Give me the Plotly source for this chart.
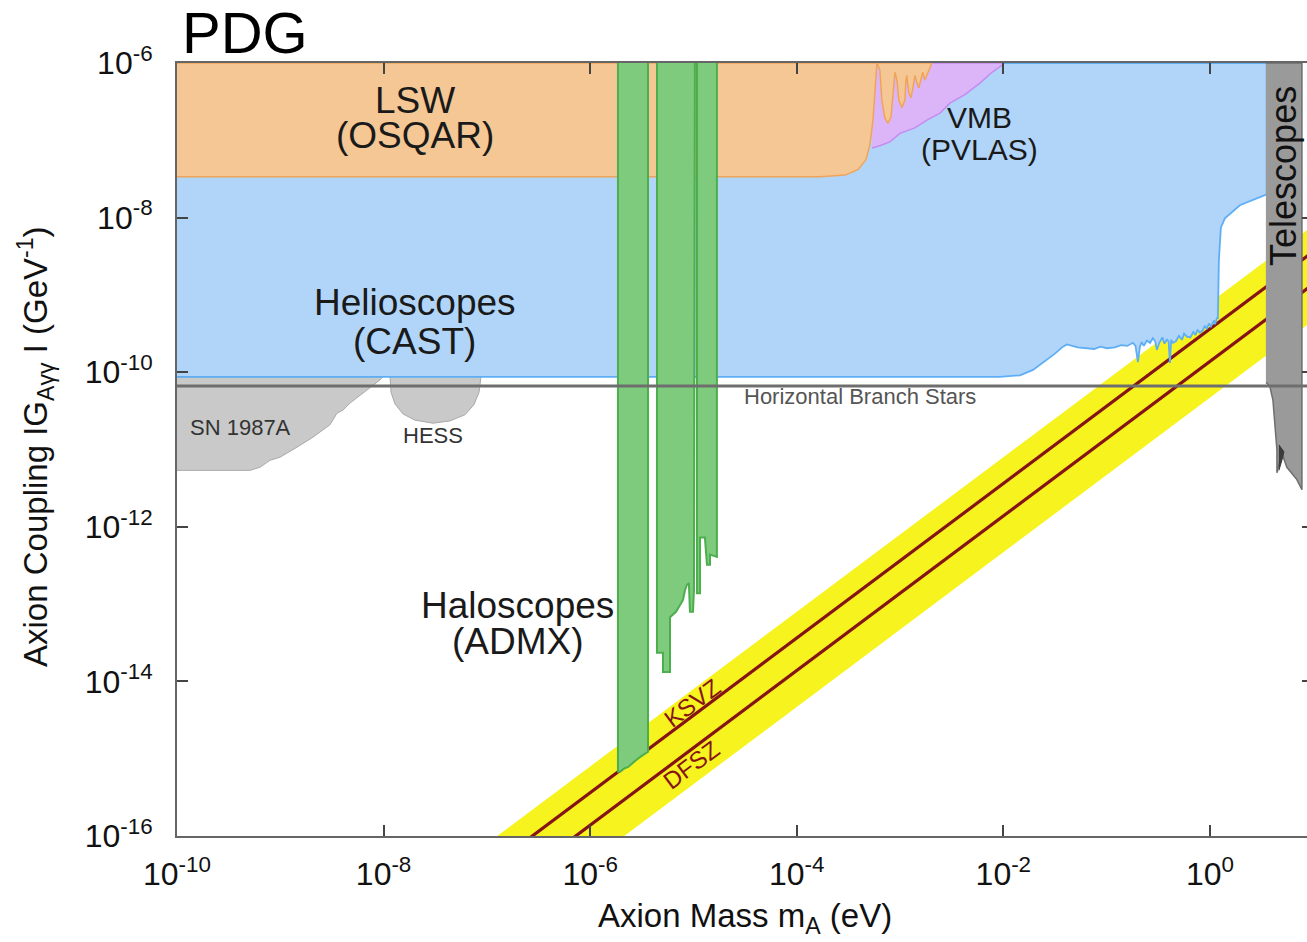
import numpy as np
import plotly.graph_objects as go

# Axion exclusion regions, stored as log10(mass / eV) and log10(|g| / GeV^-1)

# Helioscopes (CAST) - excluded above the lower boundary
cast_logm = [-10.0, 0.55, 0.55, 0.29, 0.145, 0.106, 0.087, 0.077, 0.068, 0.05, 0.04, 0.029,
             0.01, -0.01, -0.03, -0.05, -0.07, -0.097, -0.12, -0.14, -0.16, -0.19, -0.223,
             -0.25, -0.27, -0.30, -0.33, -0.358, -0.375, -0.387, -0.40, -0.416, -0.44, -0.46,
             -0.49, -0.513, -0.53, -0.552, -0.58, -0.61, -0.64, -0.66, -0.678, -0.697, -0.72,
             -0.745, -0.80, -0.86, -0.92, -0.997, -1.06, -1.12, -1.191, -1.28, -1.384, -1.423,
             -1.50, -1.578, -1.713, -1.839, -2.033, -10.0]
cast_logg = [-6.0, -6.0, -7.70, -7.84, -8.01, -8.13, -8.55, -9.30, -9.30, -9.38, -9.33, -9.36,
             -9.41, -9.37, -9.44, -9.40, -9.46, -9.49, -9.45, -9.52, -9.48, -9.55, -9.54,
             -9.50, -9.58, -9.53, -9.60, -9.62, -9.58, -9.88, -9.60, -9.58, -9.63, -9.55,
             -9.62, -9.71, -9.60, -9.56, -9.62, -9.59, -9.66, -9.61, -9.67, -9.87, -9.66,
             -9.62, -9.66, -9.65, -9.68, -9.69, -9.67, -9.70, -9.69, -9.68, -9.64, -9.67,
             -9.76, -9.84, -9.97, -10.04, -10.06, -10.06]

# Light shining through a wall (OSQAR)
lsw_logm = [-10.0, -3.775, -3.533, -3.408, -3.330, -3.292, -3.262, -3.243, -3.224, -3.195,
            -3.176, -3.147, -3.117, -3.088, -3.069, -3.049, -3.030, -3.011, -2.982, -2.953,
            -2.943, -2.935, -2.915, -2.895, -2.875, -2.856, -2.837, -2.818, -2.799, -2.780,
            -2.760, -2.740, -2.721, -2.691, -10.0]
lsw_logg = [-7.47, -7.47, -7.45, -7.38, -7.25, -7.06, -6.74, -6.35, -6.0, -6.09,
            -6.48, -6.71, -6.78, -6.70, -6.41, -6.12, -6.22, -6.48, -6.58, -6.48,
            -6.22, -6.16, -6.38, -6.45, -6.32, -6.16, -6.25, -6.32, -6.22, -6.12,
            -6.22, -6.16, -6.09, -6.0, -6.0]

# Vacuum magnetic birefringence (PVLAS)
vmb_logm = [-3.272, -3.195, -3.098, -3.001, -2.856, -2.740, -2.614, -2.517, -2.372, -2.227,
            -2.110, -2.014, -2.004, -3.272]
vmb_logg = [-7.10, -7.07, -7.02, -6.91, -6.84, -6.74, -6.65, -6.52, -6.41, -6.26,
            -6.12, -6.03, -6.0, -6.0]

# Haloscopes (ADMX and friends), three mass windows
halo1_logm = [-5.731, -5.731, -5.711, -5.663, -5.634, -5.595, -5.557, -5.518, -5.479, -5.440, -5.440]
halo1_logg = [-6.0, -15.17, -15.17, -15.12, -15.11, -15.06, -15.02, -14.98, -14.95, -14.91, -6.0]
halo2_logm = [-5.353, -5.353, -5.295, -5.295, -5.227, -5.227, -5.169, -5.131, -5.102, -5.082,
              -5.063, -5.044, -5.034, -5.005, -4.995, -4.986]
halo2_logg = [-6.0, -13.63, -13.63, -13.88, -13.88, -13.17, -13.10, -13.02, -12.95, -12.82,
              -12.75, -12.73, -13.10, -13.10, -12.82, -6.0]
halo3_logm = [-4.966, -4.966, -4.937, -4.937, -4.889, -4.879, -4.869, -4.840, -4.840, -4.773, -4.773]
halo3_logg = [-6.0, -12.86, -12.86, -12.14, -12.14, -12.27, -12.49, -12.49, -12.36, -12.39, -6.0]

# SN 1987A and HESS
sn_logm = [-10.0, -8.006, -8.035, -8.132, -8.228, -8.325, -8.393, -8.451, -8.519, -8.683,
           -8.838, -9.003, -9.100, -9.197, -9.293, -10.0]
sn_logg = [-10.06, -10.06, -10.10, -10.20, -10.30, -10.40, -10.49, -10.53, -10.68, -10.84,
           -10.97, -11.10, -11.14, -11.23, -11.27, -11.27]
hess_logm = [-7.938, -7.928, -7.890, -7.812, -7.696, -7.522, -7.357, -7.212, -7.125, -7.076, -7.057]
hess_logg = [-10.06, -10.26, -10.41, -10.54, -10.62, -10.66, -10.63, -10.55, -10.42, -10.26, -10.06]

# Telescopes
tel_logm = [0.542, 0.891, 0.891, 0.842, 0.745, 0.697, 0.649, 0.649, 0.610, 0.581, 0.552, 0.542]
tel_logg = [-6.0, -6.0, -11.52, -11.39, -11.23, -11.05, -11.30, -11.01, -10.36, -10.19, -10.14, -10.14]
tel_spike_logm = [0.668, 0.717, 0.697, 0.668]
tel_spike_logg = [-10.94, -11.03, -11.14, -11.27]

# Horizontal branch stars bound
hb_logm = [-10.0, 1.0]
hb_logg = [-10.18, -10.18]

# QCD axion models
band_logm = [-7.0, 1.0, 1.0, -7.0]
band_logg = [-16.1, -8.1, -9.33, -17.33]
ksvz_logm = [-7.0, 1.0]
ksvz_logg = [-16.44, -8.44]
dfsz_logm = [-7.0, 1.0]
dfsz_logg = [-16.86, -8.86]

x_tick_exp = [-10, -8, -6, -4, -2, 0]
y_tick_exp = [-16, -14, -12, -10, -8, -6]

FONT = "Liberation Sans, Arial, Helvetica, sans-serif"


def p10(a):
    return 10.0 ** np.asarray(a, dtype=float)


fig = go.Figure()


def region(logm, logg, fill, line, width=1.5):
    fig.add_trace(go.Scatter(x=p10(logm), y=p10(logg), mode="lines", fill="toself",
                             fillcolor=fill, line=dict(color=line, width=width),
                             hoverinfo="skip", showlegend=False))


def curve(logm, logg, color, width):
    fig.add_trace(go.Scatter(x=p10(logm), y=p10(logg), mode="lines",
                             line=dict(color=color, width=width),
                             hoverinfo="skip", showlegend=False))


region(band_logm, band_logg, "#f6f31f", "rgba(0,0,0,0)", 0)
curve(ksvz_logm, ksvz_logg, "#861414", 3.2)
curve(dfsz_logm, dfsz_logg, "#861414", 3.2)
region(sn_logm, sn_logg, "#c9c9c9", "#a9a9a9", 1)
region(hess_logm, hess_logg, "#c9c9c9", "#a9a9a9", 1)
region(cast_logm, cast_logg, "#b1d5f9", "#5eaef6", 1.8)
region(vmb_logm, vmb_logg, "#dcb4f8", "#c58cf0", 1.5)
region(lsw_logm, lsw_logg, "#f5c794", "#f0a458", 1.5)
region(halo1_logm, halo1_logg, "#7ecb7e", "#4cae4c", 2)
region(halo2_logm, halo2_logg, "#7ecb7e", "#4cae4c", 2)
region(halo3_logm, halo3_logg, "#7ecb7e", "#4cae4c", 2)
region(tel_logm, tel_logg, "#9a9a9a", "#6e6e6e", 1.5)
region(tel_spike_logm, tel_spike_logg, "#3a3a3a", "#3a3a3a", 1)
curve(hb_logm, hb_logg, "#6e6e6e", 3)

# right-hand tick marks
fig.add_trace(go.Scatter(x=[], y=[], yaxis="y2", showlegend=False))


def lab(text, lx, ly, size, color="#1a1a1a", angle=0):
    fig.add_annotation(x=lx, y=ly, xref="x", yref="y", text=text, showarrow=False,
                       font=dict(family=FONT, size=size, color=color), textangle=angle,
                       xanchor="center", yanchor="middle")


lab("LSW", -7.696, -6.479, 37)
lab("(OSQAR)", -7.696, -6.944, 37)
lab("VMB", -2.227, -6.699, 30)
lab("(PVLAS)", -2.227, -7.113, 30)
lab("Helioscopes", -7.696, -9.092, 37)
lab("(CAST)", -7.696, -9.609, 37)
lab("Haloscopes", -6.699, -13.012, 37)
lab("(ADMX)", -6.699, -13.490, 37)
lab("SN 1987A", -9.39, -10.709, 22, "#333333")
lab("HESS", -7.522, -10.825, 22, "#333333")
lab("Horizontal Branch Stars", -3.388, -10.308, 22, "#555555")
lab("KSVZ", -5.005, -14.279, 24, "#861414", -36.8)
lab("DFSZ", -5.015, -15.08, 24, "#861414", -36.8)
lab("Telescopes", 0.707, -7.462, 36, "#111111", -90)

fig.add_annotation(x=0.003, y=1.040, xref="paper", yref="paper", text="PDG", showarrow=False,
                   font=dict(family=FONT, size=58, color="#000000"),
                   xanchor="left", yanchor="middle")
fig.add_annotation(x=0.5027, y=-0.106, xref="paper", yref="paper",
                   text="Axion Mass m<sub>A</sub> (eV)", showarrow=False,
                   font=dict(family=FONT, size=33, color="#111111"),
                   xanchor="center", yanchor="middle")
fig.add_annotation(x=-0.1257, y=0.5045, xref="paper", yref="paper",
                   text="Axion Coupling IG<sub>Aγγ</sub> I (GeV<sup>-1</sup>)", showarrow=False,
                   font=dict(family=FONT, size=33, color="#111111"), textangle=-90,
                   xanchor="center", yanchor="middle")

fig.update_layout(
    width=1307, height=942,
    margin=dict(l=177, r=0, t=63, b=106),
    plot_bgcolor="white", paper_bgcolor="white",
    showlegend=False,
    xaxis=dict(type="log", range=[-10, 0.94],
               tickvals=list(p10(x_tick_exp)),
               ticktext=[f"10<sup>{e}</sup>" for e in x_tick_exp],
               ticks="inside", ticklen=11, tickwidth=2, tickcolor="#444444",
               showline=True, linecolor="#666666", linewidth=2, mirror="ticks",
               showgrid=False, zeroline=False, ticklabelstandoff=9,
               tickfont=dict(family=FONT, size=32, color="#111111")),
    yaxis=dict(type="log", range=[-16, -6],
               tickvals=list(p10(y_tick_exp)),
               ticktext=[f"10<sup>{e}</sup>" for e in y_tick_exp],
               ticks="inside", ticklen=11, tickwidth=2, tickcolor="#444444",
               showline=True, linecolor="#666666", linewidth=2,
               showgrid=False, zeroline=False, ticklabelstandoff=16,
               tickfont=dict(family=FONT, size=32, color="#111111")),
    yaxis2=dict(type="log", range=[-16, -6], overlaying="y", side="right",
                tickvals=list(p10(y_tick_exp)), ticks="inside", ticklen=5, tickwidth=2,
                tickcolor="#444444", showticklabels=False, showline=False,
                showgrid=False, zeroline=False),
)

fig.write_html("out.html")
